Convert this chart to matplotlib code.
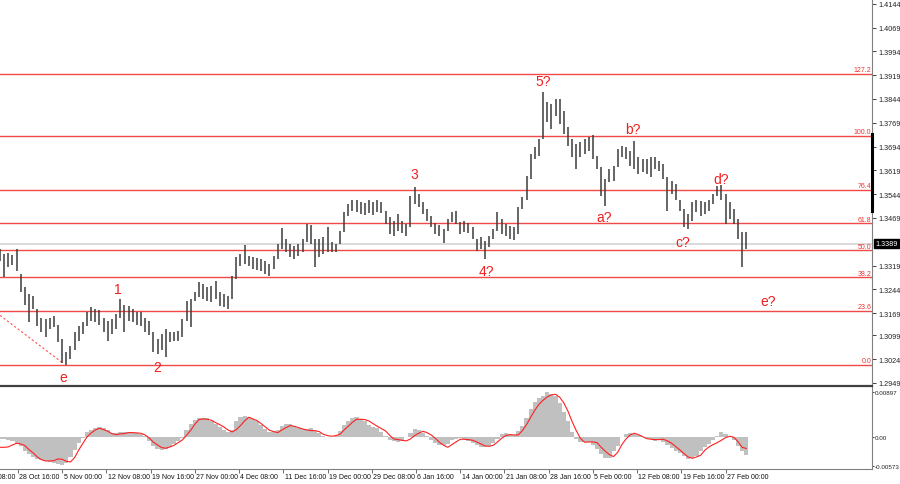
import numpy as np
import matplotlib
matplotlib.use('Agg')
import matplotlib.pyplot as plt
from matplotlib.lines import Line2D
import matplotlib.transforms as mtransforms

plt.rcParams['font.family'] = ['Liberation Sans', 'DejaVu Sans']

# ---- price bars (12h aggregates of the H4 chart), index in H4 bars ----
bar_step = 3
highs = [
    1.3370, 1.3354, 1.3357, 1.3351, 1.3370, 1.3291, 1.3250, 1.3228, 1.3222, 1.3181,
    1.3155, 1.3149, 1.3155, 1.3159, 1.3133, 1.3086, 1.3048, 1.3064, 1.3108, 1.3127,
    1.3140, 1.3171, 1.3187, 1.3181, 1.3178, 1.3155, 1.3143, 1.3149, 1.3165, 1.3215,
    1.3196, 1.3190, 1.3181, 1.3174, 1.3171, 1.3155, 1.3143, 1.3108, 1.3086, 1.3102,
    1.3118, 1.3108, 1.3111, 1.3114, 1.3149, 1.3206, 1.3212, 1.3234, 1.3266, 1.3260,
    1.3250, 1.3253, 1.3269, 1.3234, 1.3228, 1.3222, 1.3285, 1.3345, 1.3354, 1.3383,
    1.3348, 1.3345, 1.3342, 1.3338, 1.3332, 1.3323, 1.3348, 1.3386, 1.3436, 1.3402,
    1.3386, 1.3380, 1.3386, 1.3402, 1.3449, 1.3446, 1.3402, 1.3402, 1.3408, 1.3439,
    1.3392, 1.3386, 1.3427, 1.3487, 1.3512, 1.3527, 1.3525, 1.3518, 1.3515, 1.3527,
    1.3518, 1.3525, 1.3518, 1.3490, 1.3471, 1.3458, 1.3480, 1.3458, 1.3449, 1.3537,
    1.3566, 1.3544, 1.3518, 1.3496, 1.3474, 1.3452, 1.3446, 1.3433, 1.3465, 1.3487,
    1.3490, 1.3455, 1.3458, 1.3452, 1.3439, 1.3402, 1.3408, 1.3395, 1.3411, 1.3433,
    1.3487, 1.3465, 1.3449, 1.3443, 1.3439, 1.3503, 1.3534, 1.3600, 1.3670, 1.3692,
    1.3717, 1.3865, 1.3834, 1.3828, 1.3843, 1.3843, 1.3806, 1.3755, 1.3717, 1.3701,
    1.3708, 1.3717, 1.3723, 1.3730, 1.3664, 1.3629, 1.3591, 1.3622, 1.3632, 1.3686,
    1.3695, 1.3692, 1.3679, 1.3711, 1.3660, 1.3654, 1.3654, 1.3660, 1.3660, 1.3648,
    1.3638, 1.3597, 1.3585, 1.3575, 1.3527, 1.3496, 1.3480, 1.3518, 1.3527, 1.3521,
    1.3518, 1.3527, 1.3544, 1.3569, 1.3572, 1.3544, 1.3518, 1.3496, 1.3465, 1.3424,
    1.3424]
lows = [
    1.3332, 1.3282, 1.3313, 1.3320, 1.3301, 1.3237, 1.3196, 1.3140, 1.3181, 1.3127,
    1.3111, 1.3095, 1.3118, 1.3124, 1.3077, 1.3013, 1.3007, 1.3023, 1.3054, 1.3080,
    1.3102, 1.3127, 1.3143, 1.3140, 1.3133, 1.3111, 1.3080, 1.3102, 1.3118, 1.3155,
    1.3108, 1.3143, 1.3140, 1.3133, 1.3127, 1.3108, 1.3099, 1.3048, 1.3039, 1.3054,
    1.3032, 1.3077, 1.3080, 1.3080, 1.3095, 1.3143, 1.3124, 1.3206, 1.3219, 1.3212,
    1.3206, 1.3203, 1.3212, 1.3190, 1.3187, 1.3181, 1.3212, 1.3275, 1.3316, 1.3323,
    1.3316, 1.3307, 1.3304, 1.3301, 1.3291, 1.3285, 1.3307, 1.3338, 1.3370, 1.3361,
    1.3345, 1.3338, 1.3348, 1.3361, 1.3392, 1.3386, 1.3313, 1.3345, 1.3354, 1.3361,
    1.3361, 1.3361, 1.3386, 1.3424, 1.3474, 1.3490, 1.3487, 1.3480, 1.3477, 1.3484,
    1.3477, 1.3487, 1.3484, 1.3449, 1.3417, 1.3411, 1.3427, 1.3421, 1.3411, 1.3439,
    1.3512, 1.3503, 1.3480, 1.3458, 1.3439, 1.3417, 1.3411, 1.3389, 1.3427, 1.3455,
    1.3449, 1.3417, 1.3424, 1.3421, 1.3402, 1.3364, 1.3370, 1.3338, 1.3376, 1.3402,
    1.3427, 1.3417, 1.3411, 1.3402, 1.3398, 1.3417, 1.3496, 1.3527, 1.3591, 1.3654,
    1.3664, 1.3717, 1.3771, 1.3749, 1.3790, 1.3764, 1.3733, 1.3695, 1.3660, 1.3622,
    1.3660, 1.3670, 1.3679, 1.3654, 1.3622, 1.3537, 1.3506, 1.3581, 1.3585, 1.3629,
    1.3660, 1.3654, 1.3632, 1.3622, 1.3607, 1.3613, 1.3607, 1.3597, 1.3622, 1.3616,
    1.3591, 1.3490, 1.3544, 1.3527, 1.3490, 1.3439, 1.3433, 1.3458, 1.3487, 1.3474,
    1.3480, 1.3490, 1.3512, 1.3537, 1.3527, 1.3449, 1.3465, 1.3449, 1.3402, 1.3313,
    1.3370]

# ---- oscillator (histogram + signal) at the same bars ----
osc_hist = [
    -0.00033, -0.00039, -0.00052, -0.00066, -0.00112, -0.00177, -0.00262, -0.00328, -0.00394, -0.00426,
    -0.00453, -0.00466, -0.00479, -0.00499, -0.00525, -0.00551, -0.00499, -0.00394, -0.00243, -0.00112,
    -0.00013, 0.00105, 0.00151, 0.00184, 0.00197, 0.00177, 0.00151, 0.00085, 0.00079, 0.00105,
    0.00112, 0.00098, 0.00092, 0.00085, 0.00072, 0.00033, -0.00066, -0.00164, -0.00230, -0.00243,
    -0.00230, -0.00197, -0.00138, -0.00079, -0.00013, 0.00151, 0.00256, 0.00348, 0.00387, 0.00387,
    0.00374, 0.00321, 0.00269, 0.00210, 0.00144, 0.00112, 0.00151, 0.00321, 0.00394, 0.00413,
    0.00400, 0.00367, 0.00328, 0.00249, 0.00171, 0.00112, 0.00118, 0.00144, 0.00230, 0.00262,
    0.00262, 0.00223, 0.00190, 0.00157, 0.00164, 0.00177, 0.00131, 0.00085, 0.00026, 0.00007,
    0.00007, 0.00026, 0.00118, 0.00236, 0.00321, 0.00374, 0.00394, 0.00361, 0.00315, 0.00249,
    0.00210, 0.00177, 0.00105, 0.00033, -0.00046, -0.00079, -0.00085, -0.00072, 0.00013, 0.00092,
    0.00164, 0.00138, 0.00085, 0.00033, -0.00046, -0.00112, -0.00151, -0.00151, -0.00131, -0.00059,
    -0.00026, -0.00020, -0.00033, -0.00072, -0.00118, -0.00157, -0.00184, -0.00190, -0.00171, -0.00112,
    -0.00033, 0.00072, 0.00085, 0.00072, 0.00046, 0.00125, 0.00230, 0.00387, 0.00558, 0.00702,
    0.00768, 0.00820, 0.00897, 0.00853, 0.00807, 0.00676, 0.00505, 0.00315, 0.00098, -0.00026,
    -0.00098, -0.00092, -0.00085, -0.00144, -0.00230, -0.00335, -0.00413, -0.00400, -0.00269, -0.00164,
    0.00007, 0.00072, 0.00079, 0.00066, 0.00039, 0.00007, -0.00013, -0.00039, -0.00066, -0.00046,
    -0.00085, -0.00157, -0.00216, -0.00276, -0.00315, -0.00361, -0.00426, -0.00407, -0.00374, -0.00276,
    -0.00190, -0.00125, -0.00052, 0.00020, 0.00098, 0.00059, 0.00013, -0.00059, -0.00164, -0.00262,
    -0.00348]
osc_signal = [
    -0.00197, -0.00197, -0.00190, -0.00151, -0.00118, -0.00131, -0.00164, -0.00243, -0.00308, -0.00387,
    -0.00440, -0.00466, -0.00466, -0.00459, -0.00426, -0.00433, -0.00472, -0.00485, -0.00400, -0.00249,
    -0.00118, 0.00007, 0.00085, 0.00144, 0.00177, 0.00151, 0.00118, 0.00072, 0.00052, 0.00066,
    0.00072, 0.00092, 0.00092, 0.00085, 0.00079, 0.00046, -0.00013, -0.00098, -0.00151, -0.00203,
    -0.00216, -0.00190, -0.00157, -0.00105, -0.00052, 0.00039, 0.00138, 0.00256, 0.00348, 0.00361,
    0.00354, 0.00335, 0.00289, 0.00249, 0.00203, 0.00144, 0.00105, 0.00151, 0.00230, 0.00321,
    0.00394, 0.00361, 0.00328, 0.00269, 0.00203, 0.00138, 0.00112, 0.00092, 0.00144, 0.00190,
    0.00230, 0.00216, 0.00190, 0.00164, 0.00144, 0.00131, 0.00131, 0.00112, 0.00059, 0.00033,
    0.00020, 0.00033, 0.00059, 0.00144, 0.00216, 0.00295, 0.00354, 0.00354, 0.00348, 0.00321,
    0.00269, 0.00216, 0.00171, 0.00125, 0.00039, -0.00033, -0.00046, -0.00059, -0.00072, -0.00033,
    0.00033, 0.00079, 0.00118, 0.00092, 0.00046, -0.00020, -0.00098, -0.00157, -0.00197, -0.00144,
    -0.00092, -0.00039, -0.00039, -0.00046, -0.00059, -0.00092, -0.00131, -0.00171, -0.00177, -0.00157,
    -0.00092, -0.00020, 0.00033, 0.00052, 0.00046, 0.00046, 0.00131, 0.00249, 0.00394, 0.00531,
    0.00649, 0.00728, 0.00794, 0.00833, 0.00846, 0.00787, 0.00676, 0.00512, 0.00308, 0.00131,
    -0.00020, -0.00098, -0.00092, -0.00092, -0.00105, -0.00197, -0.00276, -0.00341, -0.00380, -0.00295,
    -0.00144, -0.00033, 0.00046, 0.00079, 0.00052, 0.00013, -0.00026, -0.00039, -0.00046, -0.00046,
    -0.00039, -0.00072, -0.00118, -0.00184, -0.00249, -0.00321, -0.00387, -0.00413, -0.00387, -0.00354,
    -0.00256, -0.00190, -0.00144, -0.00105, -0.00059, -0.00007, 0.00020, 0.00000, -0.00085, -0.00197,
    -0.00220]

# ---- Fibonacci levels ----
fib_names = ['127.2', '100.0', '76.4', '61.8', '50.0', '38.2', '23.6', '0.0']
fib_prices = [1.3923, 1.3727, 1.3557, 1.3452, 1.3367, 1.3282, 1.3177, 1.3007]

last_price = 1.3389
last_line = 1.3386

# wave marks: text, H4 bar index, price
wave_text = ['e', '1', '2', '3', '4?', '5?', 'a?', 'b?', 'c?', 'd?', 'e?']
wave_x = [46, 85, 114, 300, 352, 393, 437, 458, 494, 522, 556]
wave_y = [1.2969, 1.3244, 1.2998, 1.3607, 1.3301, 1.3900, 1.3471, 1.3749, 1.3392, 1.3591, 1.3206]

trend_x = [0, 45]
trend_y = [1.3162, 1.3013]

price_ticks = [1.4144, 1.4069, 1.3994, 1.3919, 1.3844, 1.3769, 1.3694, 1.3619,
               1.3544, 1.3469, 1.3319, 1.3244, 1.3169, 1.3099, 1.3024, 1.2949]
date_labels = ['21 Oct 08:00', '28 Oct 16:00', '5 Nov 00:00', '12 Nov 08:00', '19 Nov 16:00',
               '27 Nov 00:00', '4 Dec 08:00', '11 Dec 16:00', '19 Dec 00:00', '29 Dec 08:00',
               '6 Jan 16:00', '14 Jan 00:00', '21 Jan 08:00', '28 Jan 16:00', '5 Feb 00:00',
               '12 Feb 08:00', '19 Feb 16:00', '27 Feb 00:00']
date_pos = [-19, 13, 45, 77, 109, 141, 173, 205, 237, 269, 301, 333, 365, 397, 429, 461, 493, 525]

bar_x = np.arange(len(highs)) * bar_step
x_max = 631

fig = plt.figure(figsize=(9, 4.85), dpi=100)
W, H = 900.0, 485.0
right = 872 / W
ax = fig.add_axes([0, 1 - 385.5 / H, right, 385.5 / H])
ax2 = fig.add_axes([0, 1 - 470 / H, right, 82 / H], sharex=ax)

# price panel
blend = mtransforms.blended_transform_factory(ax.transAxes, ax.transData)
for name, lvl in zip(fib_names, fib_prices):
    ax.axhline(lvl, color='#f24848', lw=1.0, zorder=1)
    ax.text(0.999, lvl + 0.0002, name, transform=blend,
            ha='right', va='bottom', fontsize=5, color='#f03030')
ax.axhline(last_line, color='#d8d8d8', lw=1.3, zorder=0)
ax.vlines(bar_x, lows, highs, color='#3c3c3c', lw=1.1, zorder=3)
ax.plot(trend_x, trend_y, color='#ff5050', lw=0.8, ls=(0, (2, 2)), zorder=2)
for t, x, y in zip(wave_text, wave_x, wave_y):
    ax.text(x, y, t, color='#f01e1e', fontsize=10, ha='center', va='center', zorder=4)

ax.set_xlim(0, x_max)
ax.set_ylim(1.2944, 1.4159)
ax.yaxis.tick_right()
ax.set_yticks(price_ticks)
ax.set_yticklabels(['%.4f' % v for v in price_ticks])
ax.tick_params(axis='y', length=3, width=0.6, pad=1.5, labelsize=5.2, colors='#222222')
ax.tick_params(axis='x', bottom=False, labelbottom=False)
for s in ['top', 'left', 'bottom']:
    ax.spines[s].set_visible(False)
ax.spines['right'].set_color('#808080')
ax.spines['right'].set_linewidth(0.8)

# black marker on the price scale and the last price box
ax.plot([1.0, 1.0], [1.3732, 1.3490], transform=blend, color='black', lw=2.2, clip_on=False, zorder=5)
ax.text(1.004, last_price, '%.4f' % last_price, transform=blend, ha='left', va='center',
        fontsize=5.2, color='white', zorder=6,
        bbox=dict(boxstyle='square,pad=0.15', fc='black', ec='black'))

# separator
fig.add_artist(Line2D([0, right], [1 - 386.8 / H] * 2, color='#404040', lw=1.6))

# oscillator panel
ax2.bar(bar_x, osc_hist, width=bar_step, color='#c0c0c0', lw=0, zorder=1)
ax2.plot(bar_x, osc_signal, color='#ff2020', lw=0.8, zorder=2)
ax2.set_ylim(-0.00624, 0.00989)
ax2.yaxis.tick_right()
ax2.set_yticks([0.00897, 0.0, -0.00573])
ax2.set_yticklabels(['0.00897', '0.00', '-0.00573'])
ax2.tick_params(axis='y', length=1.5, width=0.6, pad=0.5, labelsize=4.5, colors='#222222')
ax2.set_xticks([p for p in date_pos if p >= 0])
ax2.set_xticklabels([])
ax2.tick_params(axis='x', length=3, width=0.6, colors='#555555')
for s in ['top', 'left']:
    ax2.spines[s].set_visible(False)
for s in ['right', 'bottom']:
    ax2.spines[s].set_color('#808080')
    ax2.spines[s].set_linewidth(0.8)
ax2.set_xlim(0, x_max)
blend2 = mtransforms.blended_transform_factory(ax2.transData, ax2.transAxes)
for lab, p in zip(date_labels, date_pos):
    ax2.text(p + 1.0, -0.05, lab, transform=blend2, ha='left', va='top', fontsize=5.0,
             color='#111111', clip_on=False)

fig.savefig('out.png', dpi=100)
